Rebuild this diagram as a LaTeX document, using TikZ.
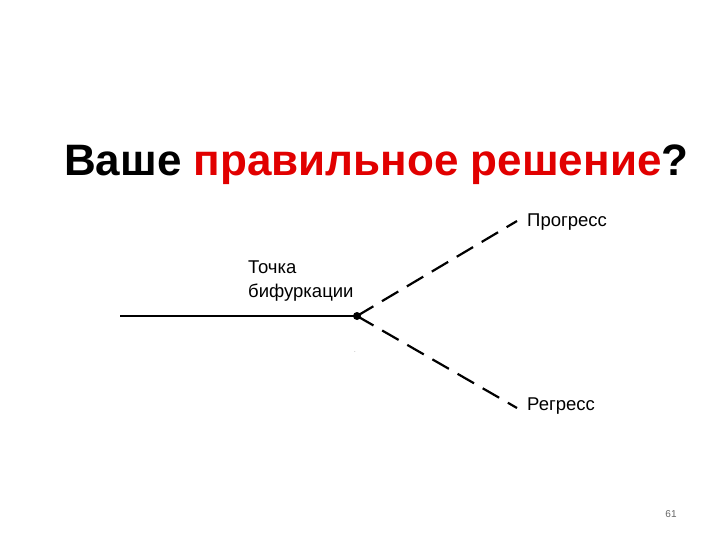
\documentclass[tikz,border=0pt]{standalone}
\usepackage{fontspec}
\setmainfont{Liberation Sans}
\begin{document}
\begin{tikzpicture}[x=1pt,y=-1pt,
  lbl/.style={inner sep=0pt,font=\fontsize{18.5}{24}\selectfont},
  branch/.style={line width=2.2pt,dash pattern=on 19pt off 10pt},
  stem/.style={line width=2.2pt}]
\useasboundingbox[fill=white] (0,0) rectangle (720,540);
\node[anchor=base west,inner sep=0pt,font=\bfseries\fontsize{44}{50}\selectfont] (title) at (64,176)
  {Ваше \textcolor[RGB]{225,0,0}{правильное решение}?};
\coordinate (start) at (120,316);
\node[circle,fill=black,inner sep=0pt,minimum size=8pt] (bif) at (357,316) {};
\coordinate (up) at (517,221);
\coordinate (down) at (517,408);
\draw[stem] (start) -- (bif.center);
\draw[branch] (bif.center) -- (up);
\draw[branch] (bif.center) -- (down);
\node[lbl,anchor=north west,align=left] (tl) at (248,261) {Точка\\бифуркации};
\node[lbl,anchor=west] (pr) at (527,222) {Прогресс};
\node[lbl,anchor=west] (rg) at (527,406) {Регресс};
\node[inner sep=0pt,font=\fontsize{6}{7}\selectfont,text=gray] (dot) at (355,352) {.};
\node[inner sep=0pt,font=\fontsize{10}{12}\selectfont,text=black!60] (pg) at (671,514) {61};
\end{tikzpicture}
\end{document}
